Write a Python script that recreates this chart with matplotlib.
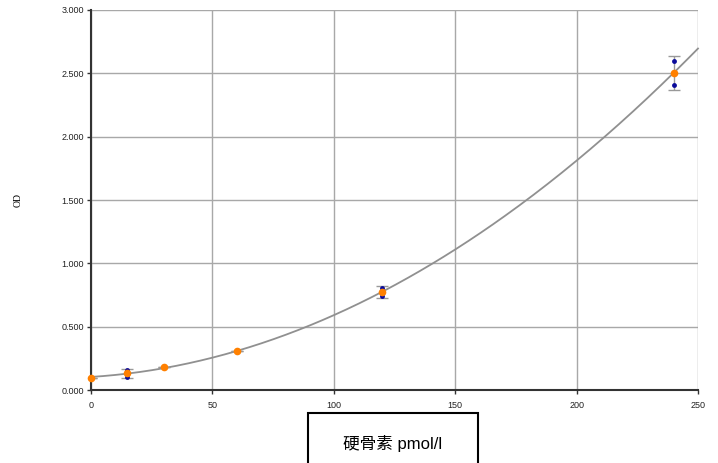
import numpy as np
import matplotlib
matplotlib.use("Agg")
import matplotlib.pyplot as plt
from matplotlib.patches import Rectangle

plt.rcParams['font.family'] = ['Liberation Sans', 'Noto Sans CJK SC', 'DejaVu Sans']

conc = [0, 15, 30, 60, 120, 240]
rep1 = [0.095, 0.158, 0.185, 0.305, 0.805, 2.60]
rep2 = [0.095, 0.103, 0.185, 0.305, 0.740, 2.41]
xticks = [0, 50, 100, 150, 200, 250]
yticks = [0.0, 0.5, 1.0, 1.5, 2.0, 2.5, 3.0]
xlabel = "硬骨素 pmol/l"
ylabel = "OD"

x = np.array(conc, dtype=float)
r = np.vstack([rep1, rep2])
mean = r.mean(axis=0)
sd = r.std(axis=0, ddof=1)

fig = plt.figure(figsize=(7.18, 4.63), dpi=100)
ax = fig.add_axes([91/718, 73/463, 607/718, 380/463])

ax.set_xlim(0, 250)
ax.set_ylim(0, 3.0)
ax.set_xticks(xticks)
ax.set_yticks(yticks)
ax.set_xticklabels([str(t) for t in xticks])
ax.set_yticklabels([f"{t:.3f}" for t in yticks])
ax.grid(True, color='#a8a8a8', linewidth=1.0)
ax.set_axisbelow(True)
for s in ['top', 'right']:
    ax.spines[s].set_visible(False)
for s in ['left', 'bottom']:
    ax.spines[s].set_color('#333333')
    ax.spines[s].set_linewidth(1.5)
ax.tick_params(axis='both', direction='out', length=3, width=1, colors='#333333',
               labelsize=6.5, labelcolor='#222222', pad=2)
ax.tick_params(axis='x', pad=5)

# fitted curve
coef = np.polyfit(np.concatenate([x, x]), np.concatenate([rep1, rep2]), 2)
xf = np.linspace(0, 250, 300)
ax.plot(xf, np.polyval(coef, xf), color='#909090', linewidth=1.3, zorder=2, clip_on=False)

ax.errorbar(x, mean, yerr=sd, fmt='none', ecolor='#999999', elinewidth=1,
            capsize=4, capthick=1, zorder=3)
ax.plot(np.concatenate([x, x]), np.concatenate([rep1, rep2]), 'o', color='#0a0a9a',
        markersize=3.5, markeredgewidth=0, zorder=4, clip_on=False)
ax.plot(x, mean, 'o', color='#ff8000', markersize=5.5, markeredgewidth=0, zorder=5,
        clip_on=False)

fig.text(18/718, 1 - 200/463, ylabel, rotation=90, family='Liberation Serif',
         fontsize=7, ha='center', va='center')

rect = Rectangle((308/718, -0.05), 170/718, 0.05 + (463-413)/463, transform=fig.transFigure,
                 fill=False, edgecolor='black', linewidth=1.5, clip_on=False)
fig.patches.append(rect)
fig.text(393/718, 1 - 443/463, xlabel, fontsize=12, ha='center', va='center',
         family=['Liberation Sans', 'Noto Sans CJK SC'])

fig.savefig('out.png', dpi=100)
